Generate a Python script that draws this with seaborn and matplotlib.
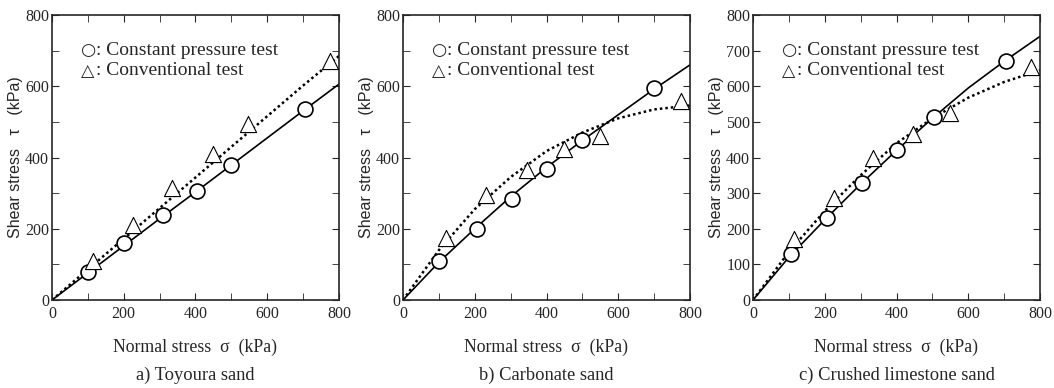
import numpy as np
import pandas as pd
import matplotlib
matplotlib.use("Agg")
import matplotlib.pyplot as plt
import seaborn as sns
from matplotlib.ticker import MultipleLocator

sns.set_style("ticks")
plt.rcParams['font.family'] = ['Liberation Serif', 'DejaVu Sans']

# dati (kPa)
titoli = ['a) Toyoura sand', 'b) Carbonate sand', 'c) Crushed limestone sand']

# prove a pressione costante (cerchi)
cp_sigma = [[100, 200, 310, 405, 500, 705],
            [100, 205, 305, 400, 500, 700],
            [105, 205, 305, 400, 505, 705]]
cp_tau = [[80, 160, 240, 305, 380, 535],
          [110, 200, 283, 368, 450, 595],
          [130, 230, 328, 422, 513, 672]]

# prove convenzionali (triangoli)
cv_sigma = [[115, 225, 335, 450, 545, 775],
            [120, 230, 345, 450, 550, 775],
            [115, 225, 335, 445, 550, 775]]
cv_tau = [[110, 210, 315, 410, 495, 670],
          [175, 295, 365, 425, 460, 560],
          [170, 285, 400, 465, 525, 655]]

# curve di inviluppo
curva_x = [0, 100, 200, 300, 400, 500, 600, 700, 800]
cp_curva = [[0, 76, 152, 228, 303, 379, 455, 531, 606],
            [0, 106, 200, 290, 372, 448, 520, 592, 660],
            [0, 120, 225, 325, 420, 510, 595, 670, 740]]
cv_curva = [[0, 86, 172, 258, 344, 430, 516, 602, 685],
            [0, 140, 255, 345, 418, 470, 510, 535, 546],
            [0, 135, 250, 350, 440, 510, 568, 612, 645]]

y_passo = [200, 200, 100]

fig = plt.figure(figsize=(10.54, 3.88), dpi=100)
lefts = [52 / 1054, 403 / 1054, 753 / 1054]
for i in range(3):
    ax = fig.add_axes([lefts[i], 88 / 388, 287 / 1054, 285 / 388])
    sns.lineplot(x=curva_x, y=cp_curva[i], ax=ax, color='black', lw=1.2)
    sns.lineplot(x=curva_x, y=cv_curva[i], ax=ax, color='black', lw=1.8,
                 linestyle=(0, (1, 1.2)))
    sns.scatterplot(x=cp_sigma[i], y=cp_tau[i], ax=ax, marker='o', s=115,
                    facecolor='white', edgecolor='black', linewidth=1.2, zorder=5)
    sns.scatterplot(x=cv_sigma[i], y=cv_tau[i], ax=ax, marker='^', s=135,
                    facecolor='white', edgecolor='black', linewidth=0.8, zorder=5)
    ax.set_xlim(0, 800)
    ax.set_ylim(0, 800)
    ax.xaxis.set_major_locator(MultipleLocator(200))
    ax.xaxis.set_minor_locator(MultipleLocator(100))
    ax.yaxis.set_major_locator(MultipleLocator(y_passo[i]))
    ax.yaxis.set_minor_locator(MultipleLocator(100))
    ax.tick_params(which='both', direction='in', top=True, right=True,
                   labelsize=11.5, pad=2)
    ax.tick_params(axis='x', pad=4)
    ax.tick_params(which='major', length=5)
    ax.tick_params(which='minor', length=5)
    for s in ax.spines.values():
        s.set_linewidth(1.2)
    ax.set_xlabel('Normal stress  σ  (kPa)', fontsize=12.8, labelpad=12)
    ax.set_ylabel('Shear stress   τ   (kPa)', fontsize=11.5,
                  family=['Liberation Sans', 'DejaVu Sans'])
    ax.yaxis.set_label_coords(-0.1, 0.5)
    # legenda scritta a mano come nell'originale
    for k, (simb, testo) in enumerate([('○', ': Constant pressure test'),
                                       ('△', ': Conventional test')]):
        yy = 0.877 - k * 0.072
        ax.text(0.1, yy, simb, transform=ax.transAxes, fontsize=12.5,
                family='DejaVu Sans', va='center')
        ax.text(0.152, yy, testo, transform=ax.transAxes, fontsize=14,
                va='center')
    fig.text(lefts[i] + 287 / 1054 / 2, 13 / 388, titoli[i], ha='center',
             va='center', fontsize=13.3)

fig.savefig('out.png', dpi=100)
